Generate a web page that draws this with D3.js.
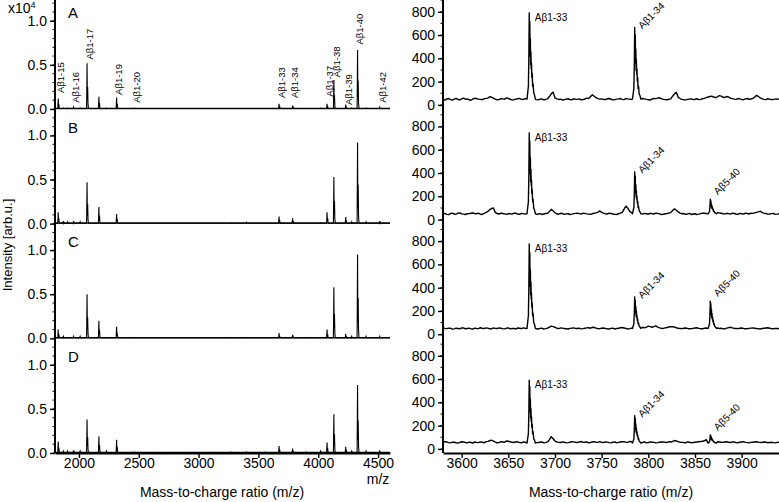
<!DOCTYPE html>
<html><head><meta charset="utf-8">
<script src="https://cdn.jsdelivr.net/npm/d3@7"></script>
<style>
body{margin:0;background:#fff}
svg text{font-family:"Liberation Sans",Arial,sans-serif;fill:#000}
</style>
</head><body>
<svg id="chart" width="779" height="502"></svg>
<script>
// ---------------- DATA ----------------
const panels = ["A", "B", "C", "D"];
const leftXTicks = [2000, 2500, 3000, 3500, 4000, 4500];
const rightXTicks = [3600, 3650, 3700, 3750, 3800, 3850, 3900];
const leftYTicks = [0.0, 0.5, 1.0];
const rightYTicks = [0, 200, 400, 600, 800];

// full-range spectra (intensity x10^4), peak m/z and heights per panel
const leftPeakMz = [1827, 1870, 1905, 1955, 2010, 2068, 2167, 2230, 2315, 2462, 3272, 3400, 3560, 3673, 3786, 3900, 4020, 4074, 4131, 4230, 4280, 4329, 4400, 4514];
const leftA = [0.12, 0.01, 0.01, 0.02, 0.01, 0.52, 0.14, 0.01, 0.13, 0.01, 0.005, 0.005, 0.005, 0.06, 0.04, 0.005, 0.01, 0.06, 0.33, 0.05, 0.01, 0.67, 0.01, 0.02];
const leftB = [0.13, 0.03, 0.02, 0.03, 0.02, 0.47, 0.19, 0.01, 0.11, 0.01, 0.01, 0.015, 0.005, 0.08, 0.06, 0.005, 0.01, 0.13, 0.53, 0.075, 0.02, 0.92, 0.02, 0.03];
const leftC = [0.10, 0.02, 0.01, 0.02, 0.02, 0.50, 0.20, 0.01, 0.13, 0.01, 0.01, 0.01, 0.005, 0.06, 0.04, 0.01, 0.01, 0.10, 0.58, 0.05, 0.02, 0.95, 0.02, 0.02];
const leftD = [0.13, 0.02, 0.02, 0.03, 0.02, 0.38, 0.19, 0.02, 0.15, 0.01, 0.01, 0.01, 0.01, 0.08, 0.05, 0.01, 0.02, 0.12, 0.44, 0.07, 0.02, 0.77, 0.02, 0.02];
const leftBaseline = 0.006;
// isotope envelope of a peak: [m/z offset, fraction of peak height]
const leftShape = [[-4, 0], [0, 1], [2, 0.2], [5, 0.48], [8, 0.1], [12, 0]];

// peak labels of panel A (full range)
const leftLabels = ["Aβ1-15", "Aβ1-16", "Aβ1-17", "Aβ1-19", "Aβ1-20", "Aβ1-33", "Aβ1-34", "Aβ1-37", "Aβ1-38", "Aβ1-39", "Aβ1-40", "Aβ1-42"];
const leftLabelMz = [1827, 1955, 2068, 2315, 2462, 3673, 3786, 4074, 4131, 4230, 4329, 4514];
const leftLabelAt = [0.18, 0.07, 0.56, 0.16, 0.07, 0.125, 0.125, 0.14, 0.36, 0.045, 0.73, 0.07];

// zoomed spectra (counts): baseline samples every 4 m/z from 3580 (base) and from 3582 (mid)
const rightMzStart = 3580, rightMzStep = 4;
const rightBaseA = [48,52,45,50,47,53,49,44,51,55,48,52,58,66,50,46,52,60,49,45,53,48,55,50,52,46,50,44,52,95,60,47,42,50,46,53,48,44,51,55,88,62,50,47,53,49,45,52,48,55,50,58,55,48,52,45,50,54,62,48,44,52,95,65,48,43,50,46,53,48,56,68,75,62,80,66,72,58,50,55,47,52,49,56,82,60,48,53,45,50,47];
const rightMidA = [42,55,41,56,44,58,52,40,57,50,45,56,70,58,44,55,49,55,41,50,56,47,51,46,54,43,52,47,72,110,52,49,45,53,44,50,52,46,58,70,75,54,52,46,55,43,50,55,46,52,47,60,50,55,48,42,55,58,53,46,49,75,108,55,45,48,52,49,46,53,62,72,68,70,76,64,68,54,48,52,45,55,51,68,72,52,46,50,48,52];
const rightBaseB = [50,45,52,48,55,49,44,51,57,50,46,53,70,95,62,48,52,45,50,56,48,53,47,52,50,45,51,48,55,88,58,46,52,49,44,51,56,48,53,47,50,58,74,55,48,52,45,50,62,115,70,55,52,48,53,46,51,55,49,45,52,60,92,66,50,46,53,48,44,51,55,60,55,70,58,50,54,47,52,45,50,56,48,53,62,72,55,47,51,45,50];
const rightMidB = [53,43,55,46,58,47,50,54,52,55,44,60,85,100,52,55,49,52,47,54,46,51,55,46,53,48,44,52,70,75,50,54,45,50,47,53,51,56,49,45,55,65,62,50,55,48,44,55,90,98,60,50,55,47,50,54,48,53,44,50,56,78,80,56,52,48,44,50,47,55,52,64,62,60,55,49,51,55,48,53,47,52,55,58,66,60,52,48,53,47];
const rightBaseC = [55,48,52,46,50,54,47,52,45,50,56,49,53,47,51,55,48,52,46,50,54,48,52,50,53,47,51,45,52,70,60,48,53,47,51,55,49,46,52,56,60,52,48,54,47,51,45,52,58,50,48,55,52,62,55,70,60,72,55,50,58,66,62,52,48,54,47,51,56,48,52,55,52,58,50,47,53,60,52,48,54,47,51,55,49,45,52,56,48,51,47];
const rightMidC = [50,53,44,52,47,55,50,46,53,48,52,55,46,54,49,52,46,55,49,45,52,55,47,55,50,45,53,48,62,66,52,55,49,45,53,50,52,48,55,52,58,49,52,50,45,53,50,56,54,45,52,50,57,60,62,66,65,62,52,55,62,64,56,50,52,50,48,54,51,47,54,50,55,54,52,46,57,55,50,52,50,48,53,52,48,50,54,52,48,50];
const rightBaseD = [55,60,52,57,50,62,55,58,50,56,60,53,65,75,58,54,60,68,62,55,60,52,58,55,60,54,58,52,60,105,68,56,60,52,57,61,55,64,58,53,60,56,62,55,58,52,60,56,62,58,64,60,56,54,60,55,58,52,57,61,55,60,72,62,56,52,58,55,60,64,70,88,75,66,60,56,62,55,59,53,60,56,52,58,62,55,60,53,57,52,58];
const rightMidD = [62,54,58,53,57,60,52,55,60,54,58,62,70,68,53,62,58,66,57,62,55,60,53,58,62,55,60,54,80,88,60,55,58,54,62,57,60,56,60,55,62,58,56,61,54,58,53,60,63,56,62,55,58,57,52,60,56,54,60,57,62,64,68,58,55,60,53,58,62,66,80,82,70,62,58,60,57,61,55,58,62,54,56,60,58,56,58,55,54,56];
const rightPeakMz = [3673, 3786, 3867];
const rightPeakA = [790, 665, 0];
const rightPeakB = [745, 410, 175];
const rightPeakC = [775, 320, 285];
const rightPeakD = [590, 285, 120];
const rightShape = [[-3, 0], [-1.5, 0.15], [-1, 0.5], [-0.6, 1.0], [-0.3, 0.55], [0, 0.9], [0.3, 0.5], [0.6, 0.7], [0.9, 0.4], [1.2, 0.55], [1.5, 0.35], [1.8, 0.42], [2.2, 0.25], [2.6, 0.3], [3, 0.15], [3.5, 0.18], [4.2, 0.07], [5, 0.05], [6, 0]];
const rightLabels = ["Aβ1-33", "Aβ1-34", "Aβ5-40"];

// ---------------- LAYOUT ----------------
const svg = d3.select("#chart");
const font = '"Liberation Sans",Arial,sans-serif';
const rowH = 114.67, firstBottom = 109;
const leftX = d3.scaleLinear().domain([1800, 4600]).range([55, 390]);
const rightX = d3.scaleLinear().domain([3580, 3940]).range([443, 779]);
const leftSeries = [leftA, leftB, leftC, leftD];
const rightBases = [rightBaseA, rightBaseB, rightBaseC, rightBaseD];
const rightMids = [rightMidA, rightMidB, rightMidC, rightMidD];
const rightPeaks = [rightPeakA, rightPeakB, rightPeakC, rightPeakD];

panels.forEach((p, i) => {
  const bottom = firstBottom + i * rowH;
  const top = bottom - rowH;
  const yL = d3.scaleLinear().domain([0, 1.3]).range([bottom, top]);
  const yR = d3.scaleLinear().domain([-35, 950]).range([bottom, top]);

  // ---- left spectrum
  const heights = leftSeries[i];
  const pts = [[1800, leftBaseline]];
  leftPeakMz.forEach((mz, k) => {
    leftShape.forEach(([o, f]) => pts.push([mz + o, Math.max(leftBaseline, f * heights[k])]));
  });
  pts.push([4600, leftBaseline]);
  svg.append("path")
    .attr("d", d3.line().x(d => leftX(d[0])).y(d => yL(d[1]))(pts))
    .attr("fill", "none").attr("stroke", "#000").attr("stroke-width", 1.1);
  svg.append("line").attr("x1", leftX(1800)).attr("x2", leftX(4600))
    .attr("y1", yL(leftBaseline)).attr("y2", yL(leftBaseline))
    .attr("stroke", "#000").attr("stroke-width", 1.4);

  // ---- left y axis
  const gl = svg.append("g").attr("transform", "translate(55,0)")
    .call(d3.axisLeft(yL).tickValues(leftYTicks).tickFormat(d3.format(".1f")).tickSize(5).tickPadding(3));
  gl.select(".domain").remove();
  gl.selectAll("text").style("font-size", "14px").style("font-family", font);
  gl.selectAll("line").attr("stroke-width", 1.4);
  svg.append("g").selectAll("line").data(d3.range(0, 13).map(v => v / 10))
    .join("line").attr("x1", 52.5).attr("x2", 55).attr("y1", d => yL(d)).attr("y2", d => yL(d))
    .attr("stroke", "#000").attr("stroke-width", 1);

  // panel letter
  svg.append("text").attr("x", 68).attr("y", top + 23.5).text(p)
    .style("font-size", "15px");

  // ---- right spectrum
  const peaks = rightPeaks[i];
  let rp = rightBases[i].map((v, k) => [rightMzStart + k * rightMzStep, v])
    .concat(rightMids[i].map((v, k) => [rightMzStart + 2 + k * rightMzStep, v]));
  const active = rightPeakMz.map((mz, k) => ({mz, h: peaks[k]})).filter(d => d.h > 0);
  rp = rp.filter(d => !active.some(a => d[0] >= a.mz - 3 && d[0] <= a.mz + 6));
  active.forEach(a => {
    const b = 50;
    rightShape.forEach(([o, f]) => rp.push([a.mz + o, b + f * (a.h - b)]));
  });
  rp.sort((a, b) => a[0] - b[0]);
  svg.append("path")
    .attr("d", d3.line().x(d => rightX(d[0])).y(d => yR(d[1]))(rp))
    .attr("fill", "none").attr("stroke", "#000").attr("stroke-width", 1.4).attr("stroke-linejoin", "round");

  // right y axis
  const gr = svg.append("g").attr("transform", "translate(443,0)")
    .call(d3.axisLeft(yR).tickValues(rightYTicks).tickSize(5).tickPadding(3));
  gr.select(".domain").remove();
  gr.selectAll("text").style("font-size", "14px").style("font-family", font);
  gr.selectAll("line").attr("stroke-width", 1.4);
  svg.append("g").selectAll("line").data(d3.range(0, 901, 100))
    .join("line").attr("x1", 440.5).attr("x2", 443).attr("y1", d => yR(d)).attr("y2", d => yR(d))
    .attr("stroke", "#000").attr("stroke-width", 1);

  // right labels
  active.forEach(a => {
    const idx = rightPeakMz.indexOf(a.mz);
    const x = rightX(a.mz), y = yR(a.h);
    if (idx === 0) {
      svg.append("text").attr("x", x + 5).attr("y", y + 8).text(rightLabels[0])
        .style("font-size", "10px");
    } else {
      const dy = idx === 1 ? 2 : -4;
      svg.append("text").attr("transform", `translate(${x + 7},${y + dy}) rotate(-45)`)
        .text(rightLabels[idx]).style("font-size", "10px");
    }
  });

  // left labels (panel A only)
  if (i === 0) {
    leftLabels.forEach((t, k) => {
      svg.append("text")
        .attr("transform", `translate(${leftX(leftLabelMz[k]) + 2.5},${yL(leftLabelAt[k])}) rotate(-90)`)
        .attr("dy", "0.35em").text(t).style("font-size", "9.5px");
    });
  }
});

// long vertical axis lines
svg.append("line").attr("x1", 55).attr("x2", 55).attr("y1", 0).attr("y2", 453).attr("stroke", "#000").attr("stroke-width", 2);
svg.append("line").attr("x1", 443).attr("x2", 443).attr("y1", 0).attr("y2", 453).attr("stroke", "#000").attr("stroke-width", 2);

// bottom x axes
const bottomY = firstBottom + 3 * rowH;
const gx1 = svg.append("g").attr("transform", `translate(0,${bottomY})`)
  .call(d3.axisBottom(leftX).tickValues(leftXTicks).tickFormat(d3.format("d")).tickSize(5).tickSizeOuter(0).tickPadding(0));
const gx2 = svg.append("g").attr("transform", `translate(0,${bottomY})`)
  .call(d3.axisBottom(rightX).tickValues(rightXTicks).tickFormat(d3.format("d")).tickSize(5).tickSizeOuter(0).tickPadding(0));
[gx1, gx2].forEach(g => {
  g.select(".domain").attr("stroke-width", 2);
  g.selectAll("line").attr("stroke-width", 1.4);
  g.selectAll("text").style("font-size", "14px").style("font-family", font);
});

svg.append("text").attr("x", leftX(4500)).attr("y", 484).attr("text-anchor", "middle")
  .text("m/z").style("font-size", "14px");
svg.append("text").attr("x", 222).attr("y", 497).attr("text-anchor", "middle")
  .text("Mass-to-charge ratio (m/z)").style("font-size", "14px");
svg.append("text").attr("x", 611).attr("y", 497).attr("text-anchor", "middle")
  .text("Mass-to-charge ratio (m/z)").style("font-size", "14px");

// x10^4
const xt = svg.append("text").attr("x", 8).attr("y", 13).style("font-size", "14px");
xt.append("tspan").text("x10");
xt.append("tspan").attr("dy", -5).style("font-size", "9px").text("4");

// y title
svg.append("text").attr("transform", "translate(12,245) rotate(-90)").attr("text-anchor", "middle")
  .text("Intensity [arb.u.]").style("font-size", "13px");
</script>
</body></html>
